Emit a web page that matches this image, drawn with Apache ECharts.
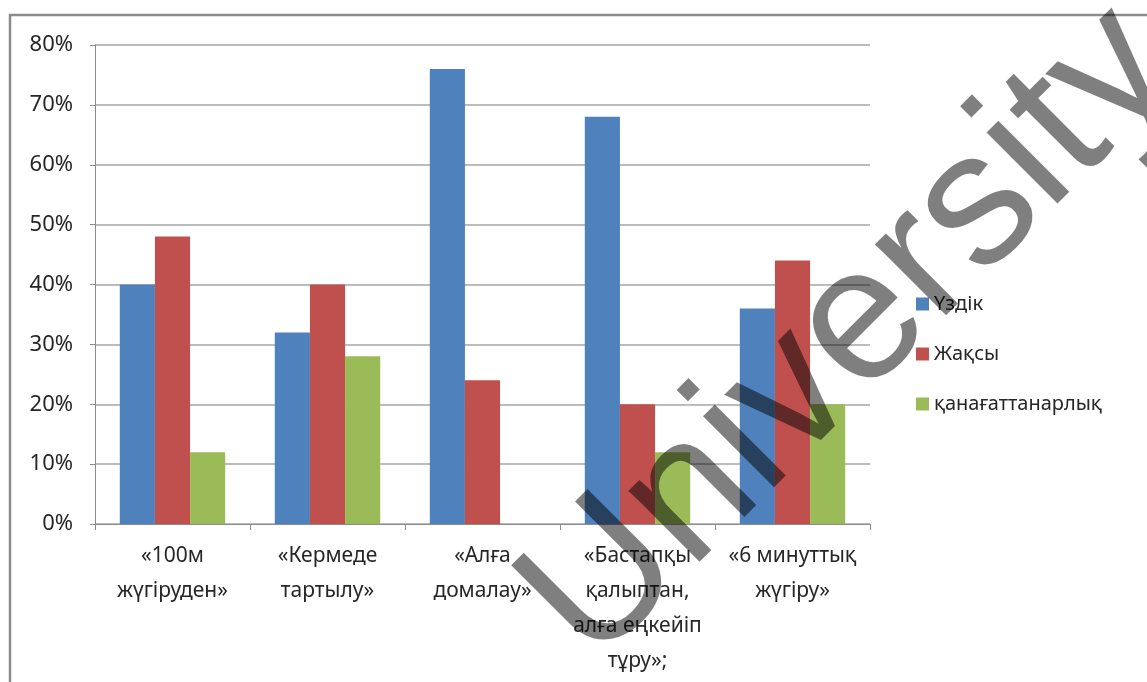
<!DOCTYPE html>
<html>
<head>
<meta charset="utf-8">
<script src="https://cdn.jsdelivr.net/npm/echarts@6/dist/echarts.min.js"></script>
<style>
  html, body { margin: 0; padding: 0; background: #fff; }
  #main { width: 1147px; height: 682px; }
</style>
</head>
<body>
<div id="main"></div>
<script>
var categories = ['«100м\nжүгіруден»', '«Кермеде\nтартылу»', '«Алға\nдомалау»', '«Бастапқы\nқалыптан,\nалға еңкейіп\nтұру»;', '«6 минуттық\nжүгіру»'];

var uzdik = [40, 32, 76, 68, 36];
var zhaksy = [48, 40, 24, 20, 44];
var kanagat = [12, 28, 0, 12, 20];

var yTicks = [0, 10, 20, 30, 40, 50, 60, 70, 80];

var myChart = echarts.init(document.getElementById('main'));

var font = '"Noto Sans", "DejaVu Sans", sans-serif';

option = {
    backgroundColor: '#fff',
    animation: false,
    grid: {
        left: 95,
        right: 277,
        top: 45,
        bottom: 158
    },
    legend: {
        data: ['Үздік', 'Жақсы', 'қанағаттанарлық'],
        orient: 'vertical',
        left: 911,
        top: 288,
        itemWidth: 13,
        itemHeight: 13,
        itemGap: 28,
        icon: 'rect',
        textStyle: {
            fontFamily: font,
            fontSize: 20,
            lineHeight: 22,
            color: '#262626'
        }
    },
    xAxis: {
        type: 'category',
        data: categories,
        axisLine: { lineStyle: { color: '#8c8c8c', width: 1 } },
        axisTick: { show: true, length: 6, lineStyle: { color: '#8c8c8c' } },
        axisLabel: {
            interval: 0,
            margin: 15,
            fontFamily: font,
            fontSize: 21,
            lineHeight: 35,
            color: '#262626'
        }
    },
    yAxis: {
        type: 'value',
        min: yTicks[0],
        max: yTicks[yTicks.length - 1],
        interval: 10,
        axisLine: { show: true, lineStyle: { color: '#8c8c8c', width: 1 } },
        axisTick: { show: true, length: 5, lineStyle: { color: '#8c8c8c' } },
        splitLine: { lineStyle: { color: '#a6a6a6', width: 1.5 } },
        axisLabel: {
            margin: 22,
            fontFamily: font,
            fontSize: 22,
            color: '#262626',
            formatter: '{value}%'
        }
    },
    series: [{
        name: 'Үздік',
        type: 'bar',
        data: uzdik,
        barGap: '0%',
        barCategoryGap: '32%',
        itemStyle: { color: '#4f81bd' }
    }, {
        name: 'Жақсы',
        type: 'bar',
        data: zhaksy,
        itemStyle: { color: '#c0504d' }
    }, {
        name: 'қанағаттанарлық',
        type: 'bar',
        data: kanagat,
        itemStyle: { color: '#9bbb59' }
    }],
    graphic: [{
        type: 'rect',
        z: 50,
        shape: { x: 10, y: 15, width: 1200, height: 720 },
        style: { fill: 'none', stroke: '#8c8c8c', lineWidth: 2.5 }
    }, {
        // scanned watermark over the chart
        type: 'text',
        z: 100,
        x: 851,
        y: 336,
        rotation: 45 * Math.PI / 180,
        style: {
            text: 'University',
            font: '190px "Liberation Sans"',
            fill: 'rgba(0,0,0,0.5)',
            textAlign: 'center',
            textVerticalAlign: 'middle'
        }
    }]
};

myChart.setOption(option);
</script>
</body>
</html>
